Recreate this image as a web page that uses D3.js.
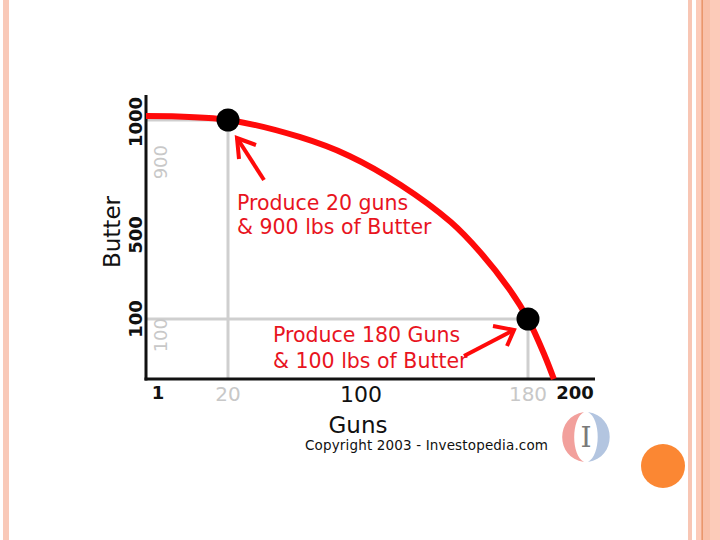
<!DOCTYPE html>
<html><head><meta charset="utf-8">
<script src="https://cdn.jsdelivr.net/npm/d3@7"></script>
<style>html,body{margin:0;padding:0;background:#fff;}svg{display:block;}</style>
</head><body>
<svg id="c" width="720" height="540"></svg>
<script>
// ---- data ----
const guns   = [0, 20, 63, 93, 119, 143, 157, 171, 180, 187, 191];
const butter = [1000, 900, 841, 775, 674, 545, 419, 243, 100, 40, 0];
const chosenGuns   = [20, 180];
const chosenButter = [900, 100];
const xTickBold    = [1, 200];
const xTickRegular = [100];
const xTickGray    = [20, 180];
const yTickBold    = [100, 500, 1000];
const yTickGray    = [900, 100];
const notes = [
  ["Produce 20 guns", "& 900 lbs of Butter"],
  ["Produce 180 Guns", "& 100 lbs of Butter"]
];
const xTitle = "Guns", yTitle = "Butter";
const credit = "Copyright 2003 - Investopedia.com";

// ---- scales (schematic axis, piecewise) ----
const x = d3.scaleLinear().domain([0, 1, 20, 100, 180, 200]).range([146, 158, 228, 361, 528, 575]);
const y = d3.scaleLinear().domain([0, 100, 500, 900, 1000]).range([379, 319, 235, 120, 116]);

const svg = d3.select("#c");
const FONT = "DejaVu Sans, Verdana, sans-serif";

// slide decoration
svg.append("rect").attr("x", 3).attr("y", 0).attr("width", 6).attr("height", 540).attr("fill", "#f9c9b8");
svg.append("rect").attr("x", 688).attr("y", 0).attr("width", 4).attr("height", 540).attr("fill", "#f8c6b4");
svg.append("rect").attr("x", 696).attr("y", 0).attr("width", 24).attr("height", 540).attr("fill", "#fccbb9");
svg.append("rect").attr("x", 703).attr("y", 0).attr("width", 7).attr("height", 540).attr("fill", "#f9c0a9");
svg.append("rect").attr("x", 701.5).attr("y", 0).attr("width", 1.3).attr("height", 540).attr("fill", "#e58a5a");
svg.append("circle").attr("cx", 663).attr("cy", 466).attr("r", 22).attr("fill", "#fb8733");

// guide lines
const g = svg.append("g");
g.append("line").attr("x1", x(0)).attr("x2", x(chosenGuns[0])).attr("y1", y(chosenButter[0])).attr("y2", y(chosenButter[0]))
  .attr("stroke", "#cfcfcf").attr("stroke-width", 3);
g.append("line").attr("x1", x(chosenGuns[0])).attr("x2", x(chosenGuns[0])).attr("y1", y(chosenButter[0])).attr("y2", y(0))
  .attr("stroke", "#cfcfcf").attr("stroke-width", 3);
g.append("line").attr("x1", x(0)).attr("x2", x(chosenGuns[1])).attr("y1", y(chosenButter[1])).attr("y2", y(chosenButter[1]))
  .attr("stroke", "#cfcfcf").attr("stroke-width", 3);
g.append("line").attr("x1", x(chosenGuns[1])).attr("x2", x(chosenGuns[1])).attr("y1", y(chosenButter[1])).attr("y2", y(0))
  .attr("stroke", "#cfcfcf").attr("stroke-width", 3);

// axes
g.append("line").attr("x1", x(0)).attr("x2", x(0)).attr("y1", 95).attr("y2", y(0) + 1.5)
  .attr("stroke", "#111").attr("stroke-width", 3);
g.append("line").attr("x1", x(0) - 1.5).attr("x2", 595).attr("y1", y(0)).attr("y2", y(0))
  .attr("stroke", "#111").attr("stroke-width", 3);

// PPF curve
const pts = guns.map((d, i) => [d, butter[i]]);
g.append("path").datum(pts)
  .attr("d", d3.line().x(d => x(d[0])).y(d => y(d[1])).curve(d3.curveCatmullRom.alpha(0.5)))
  .attr("fill", "none").attr("stroke", "#ff0a0a").attr("stroke-width", 6).attr("stroke-linecap", "butt");

// dots
g.selectAll(".dot").data(chosenGuns).join("circle")
  .attr("cx", d => x(d)).attr("cy", (d, i) => y(chosenButter[i])).attr("r", 11.5).attr("fill", "#000");

// x tick labels
g.selectAll(".xb").data(xTickBold).join("text")
  .attr("x", d => x(d)).attr("y", 399).attr("text-anchor", "middle")
  .attr("font-family", FONT).attr("font-weight", "bold").attr("font-size", 18).attr("fill", "#111").text(d => d);
g.selectAll(".xr").data(xTickRegular).join("text")
  .attr("x", d => x(d)).attr("y", 402).attr("text-anchor", "middle")
  .attr("font-family", FONT).attr("font-size", 22).attr("fill", "#111").text(d => d);
g.selectAll(".xg").data(xTickGray).join("text")
  .attr("x", d => x(d)).attr("y", 401).attr("text-anchor", "middle")
  .attr("font-family", FONT).attr("font-size", 20).attr("fill", "#c8c8c8").text(d => d);

// y tick labels (rotated)
g.selectAll(".yb").data(yTickBold).join("text")
  .attr("transform", d => `translate(141.5,${d === 1000 ? y(d) + 6 : y(d)}) rotate(-90)`)
  .attr("text-anchor", "middle")
  .attr("font-family", FONT).attr("font-weight", "bold").attr("font-size", 18).attr("fill", "#111").text(d => d);
g.selectAll(".yg").data(yTickGray).join("text")
  .attr("transform", d => `translate(166.5,${d === 900 ? y(d) + 25 : y(d) - 1}) rotate(-90)`)
  .attr("text-anchor", "end")
  .attr("font-family", FONT).attr("font-size", 18).attr("fill", "#c8c8c8").text(d => d);

// titles
g.append("text").attr("transform", "translate(120,232) rotate(-90)").attr("text-anchor", "middle")
  .attr("font-family", FONT).attr("font-size", 23).attr("fill", "#111").text(yTitle);
g.append("text").attr("x", 358).attr("y", 433).attr("text-anchor", "middle")
  .attr("font-family", FONT).attr("font-size", 23).attr("fill", "#111").text(xTitle);

// annotations
const RED = "#e8141e";
const a1x = x(chosenGuns[0]) + 9, a1y = y(chosenButter[0]);
g.append("text").attr("x", a1x).attr("y", a1y + 90)
  .attr("font-family", FONT).attr("font-size", 20.5).attr("fill", RED).text(notes[0][0]);
g.append("text").attr("x", a1x).attr("y", a1y + 114)
  .attr("font-family", FONT).attr("font-size", 20.5).attr("fill", RED).text(notes[0][1]);
const a2x = x(chosenGuns[1]) - 255, a2y = y(chosenButter[1]);
g.append("text").attr("x", a2x).attr("y", a2y + 23)
  .attr("font-family", FONT).attr("font-size", 20.5).attr("fill", RED).text(notes[1][0]);
g.append("text").attr("x", a2x).attr("y", a2y + 49)
  .attr("font-family", FONT).attr("font-size", 20.5).attr("fill", RED).text(notes[1][1]);

// arrows
const t1 = [x(chosenGuns[0]) + 9, y(chosenButter[0]) + 18];
g.append("path").attr("d", `M${t1[0] + 27},${t1[1] + 42} L${t1[0]},${t1[1]}`)
  .attr("stroke", "#ff0a0a").attr("stroke-width", 4).attr("fill", "none");
g.append("path").attr("d", `M${t1[0] + 19},${t1[1] + 7} L${t1[0]},${t1[1]} L${t1[0] + 2},${t1[1] + 21}`)
  .attr("stroke", "#ff0a0a").attr("stroke-width", 4).attr("fill", "none").attr("stroke-linejoin", "miter");
const t2 = [x(chosenGuns[1]) - 14, y(chosenButter[1]) + 11];
g.append("path").attr("d", `M${t2[0] - 50},${t2[1] + 26} L${t2[0]},${t2[1]}`)
  .attr("stroke", "#ff0a0a").attr("stroke-width", 4).attr("fill", "none");
g.append("path").attr("d", `M${t2[0] - 21},${t2[1] - 4} L${t2[0]},${t2[1]} L${t2[0] - 7},${t2[1] + 16}`)
  .attr("stroke", "#ff0a0a").attr("stroke-width", 4).attr("fill", "none");

// credit + logo
g.append("text").attr("x", 305).attr("y", 450)
  .attr("font-family", FONT).attr("font-size", 13.5).attr("fill", "#111").attr("textLength", 243).text(credit);
const lg = svg.append("g").attr("transform", "translate(586,437)");
lg.append("path").attr("d", "M-2,-25 C-31,-21 -31,21 -2,25 C-15,18 -15,-18 -2,-25 Z").attr("fill", "#f2a09c");
lg.append("path").attr("d", "M2,-25 C31,-21 31,21 2,25 C15,18 15,-18 2,-25 Z").attr("fill", "#b3c5e0");
lg.append("text").attr("x", 0).attr("y", 10).attr("text-anchor", "middle")
  .attr("font-family", "DejaVu Serif, serif").attr("font-size", 28).attr("fill", "#7a7a7a").text("I");
</script>
</body></html>
